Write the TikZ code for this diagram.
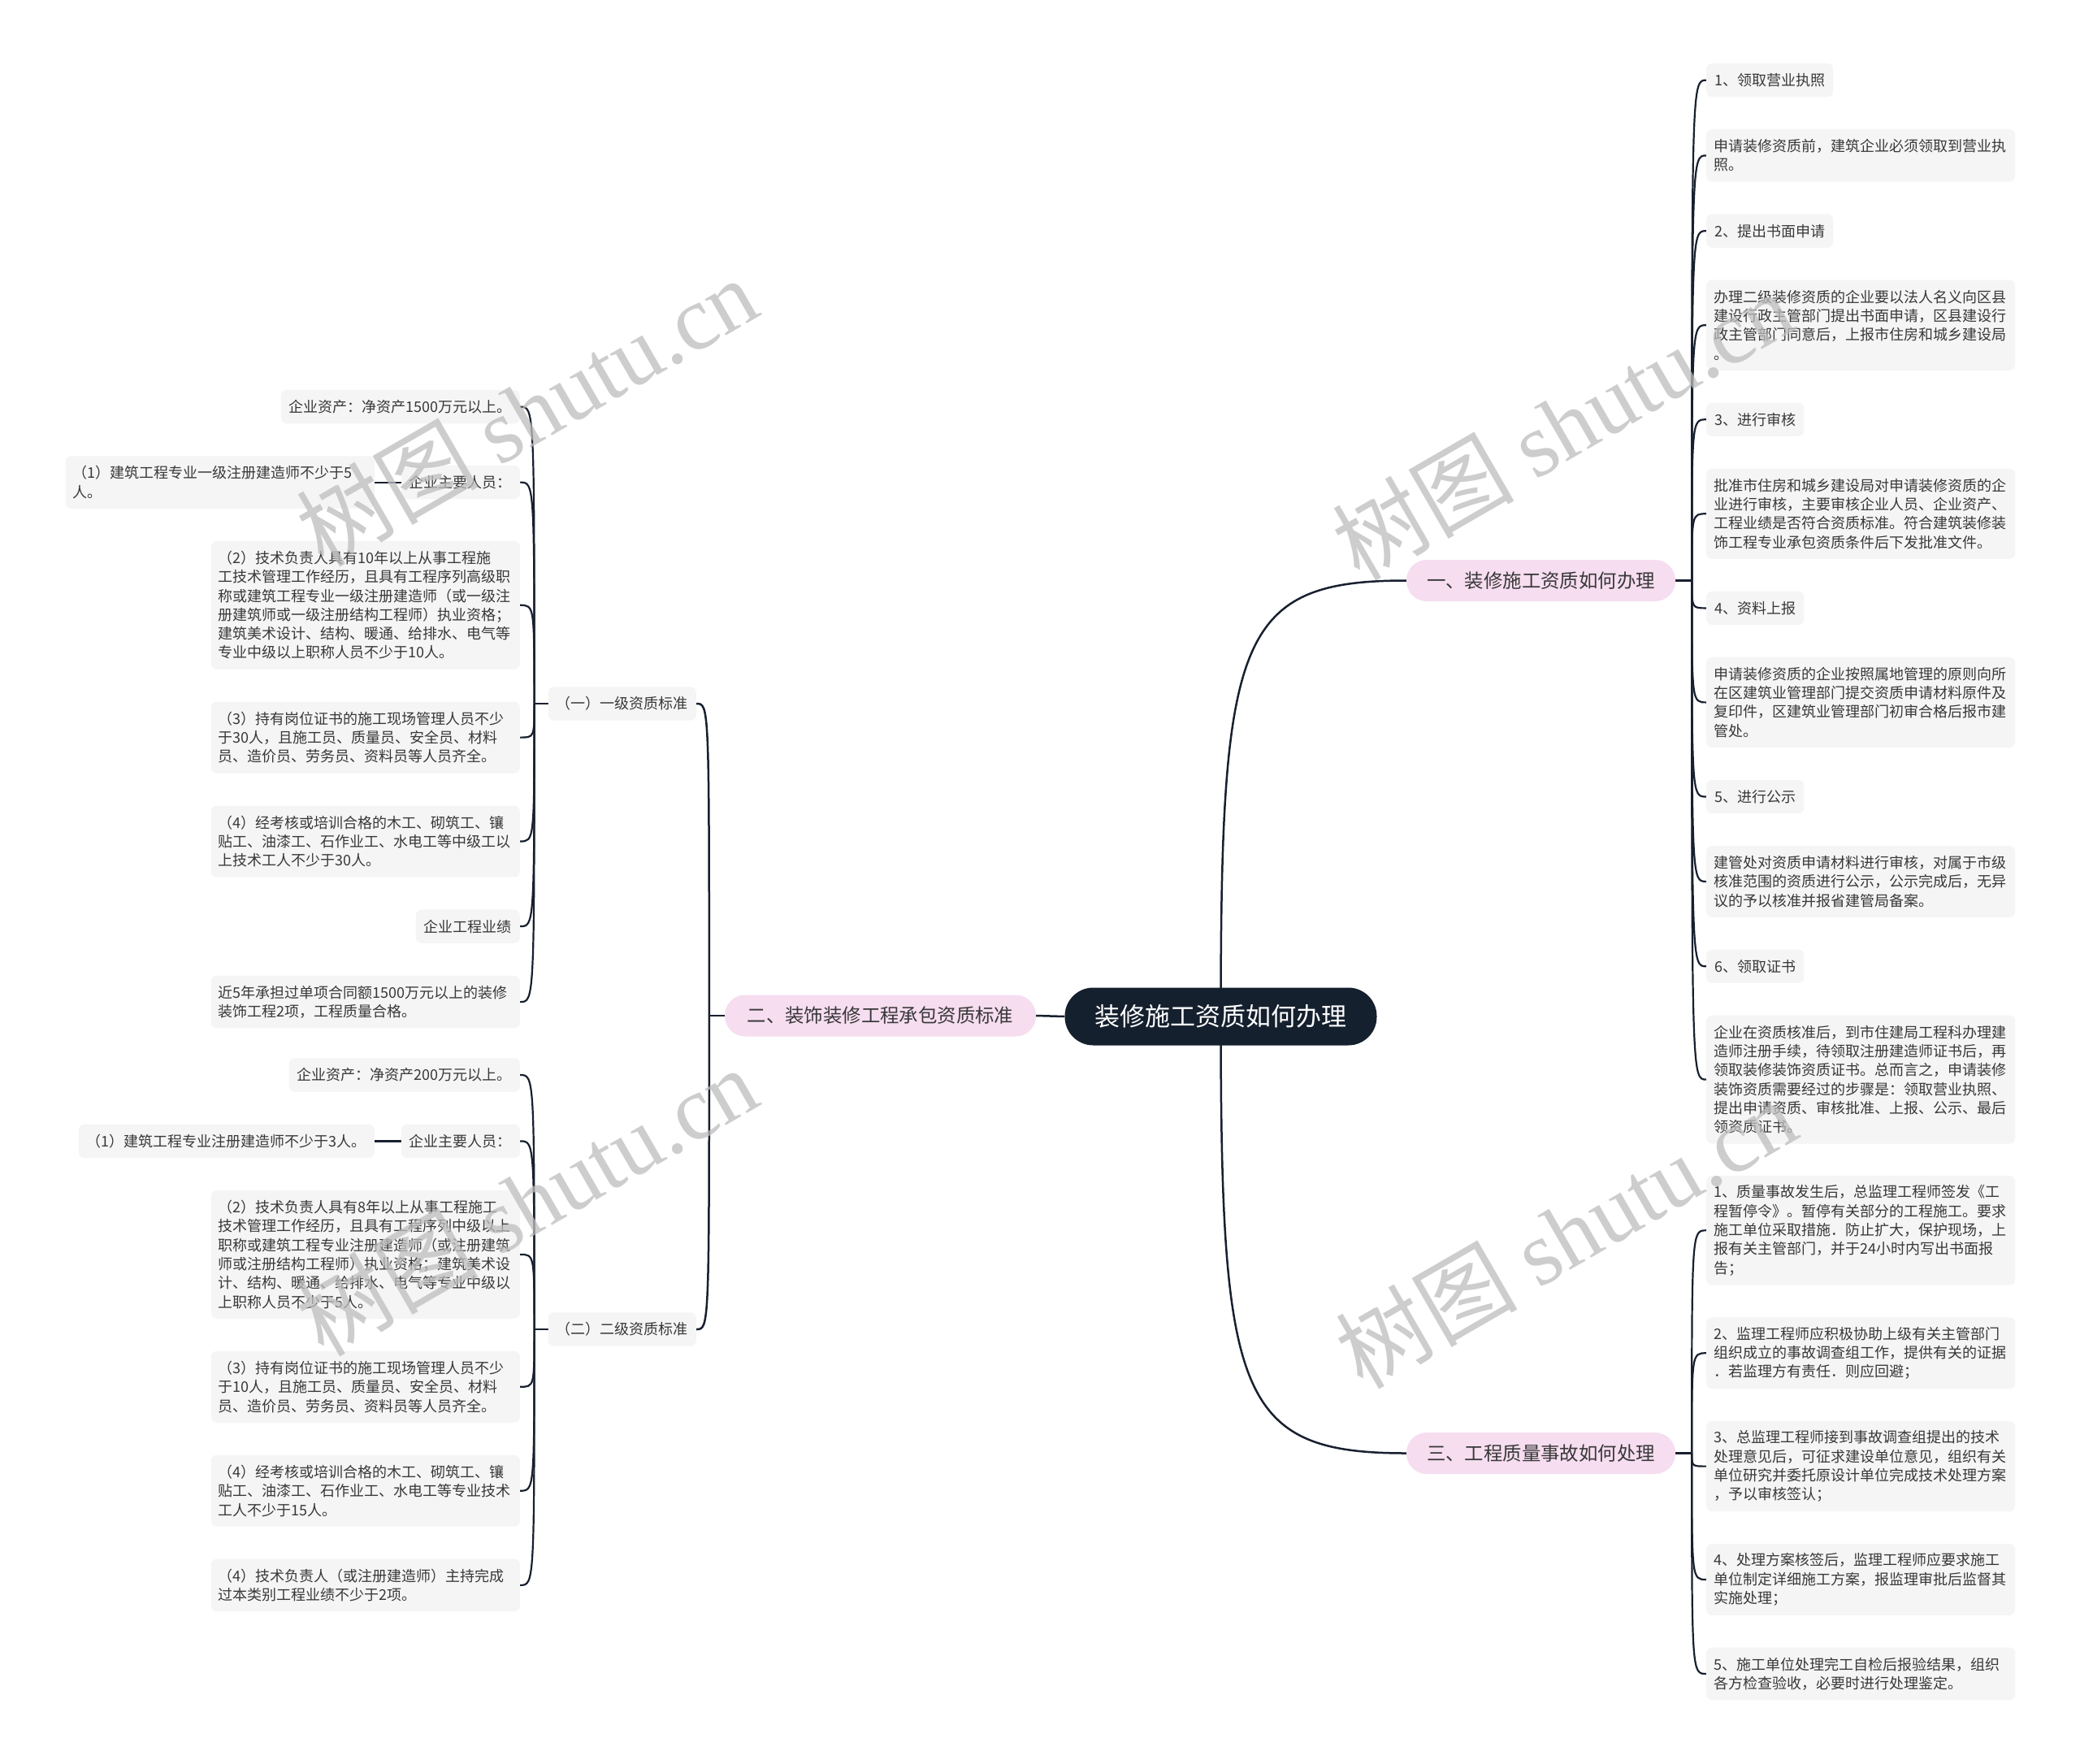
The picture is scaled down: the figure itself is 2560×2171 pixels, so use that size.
\documentclass[tikz,border=0pt]{standalone}
\usepackage{fontspec}
\setmainfont{Noto Sans CJK SC}
\newfontfamily\wmserif{Liberation Serif}
\usetikzlibrary{calc,backgrounds}
\definecolor{rootbg}{HTML}{15202E}
\definecolor{pinkbg}{HTML}{F6DDF0}
\definecolor{leafbg}{HTML}{F5F5F5}
\definecolor{leaftxt}{HTML}{383838}
\definecolor{linec}{HTML}{18202F}
\definecolor{wmc}{HTML}{BDBDBD}
\begin{document}
\begin{tikzpicture}[x=1pt,y=-1pt,
  rootnode/.style={fill=rootbg, text=white, rounded corners=35pt, minimum width=384pt, minimum height=71pt, inner sep=0pt, font=\fontsize{31}{36}\selectfont},
  branch/.style={fill=pinkbg, text=leaftxt, rounded corners=25pt, minimum height=51pt, inner sep=0pt, font=\fontsize{23.4}{28}\selectfont},
  leaf/.style={fill=leafbg, text=leaftxt, rounded corners=7pt, inner xsep=10pt, inner ysep=0pt, font=\fontsize{18}{23.3}\selectfont, minimum height=41.3pt},
  para/.style={leaf, text width=362pt, align=left, inner xsep=9pt, minimum height={18pt+#1*23.3pt}},
  conn/.style={draw=linec, line width=2.2pt},
  mainconn/.style={draw=linec, line width=2.5pt},
  wm/.style={text=wmc, opacity=0.75, font=\fontsize{112}{120}\selectfont, rotate=30, inner sep=0pt}
]
\useasboundingbox (0,0) rectangle (2560,2171);

% ---------- root and branches ----------
\node[rootnode] (root) at (1502.5,1251) {装修施工资质如何办理};
\node[branch, minimum width=331pt] (b1) at (1896.5,714.5) {一、装修施工资质如何办理};
\node[branch, minimum width=331pt] (b3) at (1896.5,1788.5) {三、工程质量事故如何处理};
\node[branch, minimum width=383pt] (b2) at (1083.5,1250) {二、装饰装修工程承包资质标准};

% ---------- branch 1 children ----------
\node[leaf, anchor=west] (c11) at (2100,98.7) {1、领取营业执照};
\node[para=2, anchor=west] (c12) at (2100,191.4) {申请装修资质前，建筑企业必须领取到营业执\\照。};
\node[leaf, anchor=west] (c13) at (2100,284.2) {2、提出书面申请};
\node[para=4, anchor=west] (c14) at (2100,400.2) {办理二级装修资质的企业要以法人名义向区县\\建设行政主管部门提出书面申请，区县建设行\\政主管部门同意后，上报市住房和城乡建设局\\。};
\node[leaf, anchor=west] (c15) at (2100,516.3) {3、进行审核};
\node[para=4, anchor=west] (c16) at (2100,632.3) {批准市住房和城乡建设局对申请装修资质的企\\业进行审核，主要审核企业人员、企业资产、\\工程业绩是否符合资质标准。符合建筑装修装\\饰工程专业承包资质条件后下发批准文件。};
\node[leaf, anchor=west] (c17) at (2100,748.4) {4、资料上报};
\node[para=4, anchor=west] (c18) at (2100,864.4) {申请装修资质的企业按照属地管理的原则向所\\在区建筑业管理部门提交资质申请材料原件及\\复印件，区建筑业管理部门初审合格后报市建\\管处。};
\node[leaf, anchor=west] (c19) at (2100,980.5) {5、进行公示};
\node[para=3, anchor=west] (c1a) at (2100,1084.9) {建管处对资质申请材料进行审核，对属于市级\\核准范围的资质进行公示，公示完成后，无异\\议的予以核准并报省建管局备案。};
\node[leaf, anchor=west] (c1b) at (2100,1189.3) {6、领取证书};
\node[para=6, anchor=west] (c1c) at (2100,1328.6) {企业在资质核准后，到市住建局工程科办理建\\造师注册手续，待领取注册建造师证书后，再\\领取装修装饰资质证书。总而言之，申请装修\\装饰资质需要经过的步骤是：领取营业执照、\\提出申请资质、审核批准、上报、公示、最后\\领资质证书。};

% ---------- branch 3 children ----------
\node[para=5, anchor=west] (c31) at (2100,1514.3) {1、质量事故发生后，总监理工程师签发《工\\程暂停令》。暂停有关部分的工程施工。要求\\施工单位采取措施．防止扩大，保护现场，上\\报有关主管部门，并于24小时内写出书面报\\告；};
\node[para=3, anchor=west] (c32) at (2100,1665.3) {2、监理工程师应积极协助上级有关主管部门\\组织成立的事故调查组工作，提供有关的证据\\．若监理方有责任．则应回避；};
\node[para=4, anchor=west] (c33) at (2100,1804.6) {3、总监理工程师接到事故调查组提出的技术\\处理意见后，可征求建设单位意见，组织有关\\单位研究并委托原设计单位完成技术处理方案\\，予以审核签认；};
\node[para=3, anchor=west] (c34) at (2100,1944) {4、处理方案核签后，监理工程师应要求施工\\单位制定详细施工方案，报监理审批后监督其\\实施处理；};
\node[para=2, anchor=west] (c35) at (2100,2060) {5、施工单位处理完工自检后报验结果，组织\\各方检查验收，必要时进行处理鉴定。};

% ---------- branch 2 children ----------
\node[leaf, anchor=east] (n1) at (857,866) {（一）一级资质标准};
\node[leaf, anchor=east] (n2) at (857,1636) {（二）二级资质标准};

\node[leaf, anchor=east] (a1) at (640,500.6) {企业资产：净资产1500万元以上。};
\node[leaf, anchor=east] (a2) at (640,593.6) {企业主要人员：};
\node[para=2, anchor=east] (a3) at (461,593.6) {（1）建筑工程专业一级注册建造师不少于5\\人。};
\node[para=6, anchor=east] (a4) at (640,744.8) {（2）技术负责人具有10年以上从事工程施\\工技术管理工作经历，且具有工程序列高级职\\称或建筑工程专业一级注册建造师（或一级注\\册建筑师或一级注册结构工程师）执业资格；\\建筑美术设计、结构、暖通、给排水、电气等\\专业中级以上职称人员不少于10人。};
\node[para=3, anchor=east] (a5) at (640,907.6) {（3）持有岗位证书的施工现场管理人员不少\\于30人，且施工员、质量员、安全员、材料\\员、造价员、劳务员、资料员等人员齐全。};
\node[para=3, anchor=east] (a6) at (640,1035.5) {（4）经考核或培训合格的木工、砌筑工、镶\\贴工、油漆工、石作业工、水电工等中级工以\\上技术工人不少于30人。};
\node[leaf, anchor=east] (a7) at (640,1140.1) {企业工程业绩};
\node[para=2, anchor=east] (a8) at (640,1233.1) {近5年承担过单项合同额1500万元以上的装修\\装饰工程2项，工程质量合格。};

\node[leaf, anchor=east] (d1) at (640,1323) {企业资产：净资产200万元以上。};
\node[leaf, anchor=east] (d2) at (640,1404.4) {企业主要人员：};
\node[leaf, anchor=east] (d3) at (461,1404.4) {（1）建筑工程专业注册建造师不少于3人。};
\node[para=6, anchor=east] (d4) at (640,1543.9) {（2）技术负责人具有8年以上从事工程施工\\技术管理工作经历，且具有工程序列中级以上\\职称或建筑工程专业注册建造师（或注册建筑\\师或注册结构工程师）执业资格；建筑美术设\\计、结构、暖通、给排水、电气等专业中级以\\上职称人员不少于5人。};
\node[para=3, anchor=east] (d5) at (640,1706.8) {（3）持有岗位证书的施工现场管理人员不少\\于10人，且施工员、质量员、安全员、材料\\员、造价员、劳务员、资料员等人员齐全。};
\node[para=3, anchor=east] (d6) at (640,1834.7) {（4）经考核或培训合格的木工、砌筑工、镶\\贴工、油漆工、石作业工、水电工等专业技术\\工人不少于15人。};
\node[para=2, anchor=east] (d7) at (640,1950.9) {（4）技术负责人（或注册建造师）主持完成\\过本类别工程业绩不少于2项。};

% ---------- junctions ----------
\coordinate (j1) at ($(b1.east)+(20,0)$);
\coordinate (j3) at ($(b3.east)+(20,0)$);
\coordinate (j2) at ($(b2.west)+(-19,0)$);
\coordinate (jn1) at ($(n1.west)+(-17,0)$);
\coordinate (jn2) at ($(n2.west)+(-17,0)$);

% ---------- connectors ----------
\begin{scope}[on background layer]
\fill[white] (0,0) rectangle (2560,2171);
\draw[mainconn] (root.center) .. controls ($(root.center |- b1.west)+(0,70)$) and ($(root.center |- b1.west)+(20,0)$) .. (b1.west);
\draw[mainconn] (root.center) .. controls ($(root.center |- b3.west)+(0,-70)$) and ($(root.center |- b3.west)+(20,0)$) .. (b3.west);
\draw[mainconn] (root.west) -- (b2.east);

\draw[conn] (b1.east) -- (j1);
\foreach \c in {c11,c12,c13,c14,c15,c16,c17,c18,c19,c1a,c1b,c1c}
  \draw[conn] (j1) .. controls (j1 |- \c.west) .. (\c.west);
\draw[conn] (b3.east) -- (j3);
\foreach \c in {c31,c32,c33,c34,c35}
  \draw[conn] (j3) .. controls (j3 |- \c.west) .. (\c.west);

\draw[mainconn] (b2.west) -- (j2);
\foreach \c in {n1,n2}
  \draw[mainconn] (j2) .. controls (j2 |- \c.east) .. (\c.east);

\draw[conn] (n1.west) -- (jn1);
\foreach \c in {a1,a2,a4,a5,a6,a7,a8}
  \draw[conn] (jn1) .. controls (jn1 |- \c.east) .. (\c.east);
\draw[conn] (n2.west) -- (jn2);
\foreach \c in {d1,d2,d4,d5,d6,d7}
  \draw[conn] (jn2) .. controls (jn2 |- \c.east) .. (\c.east);

\draw[conn] (a2.west) -- (a3.east);
\draw[conn] (d2.west) -- (d3.east);
\end{scope}

% ---------- watermarks ----------
\node[wm] (w1) at (648,506) {树图 {\wmserif shutu.cn}};
\node[wm] (w2) at (648,1478) {树图 {\wmserif shutu.cn}};
\node[wm] (w3) at (1923,523) {树图 {\wmserif shutu.cn}};
\node[wm] (w4) at (1927,1518) {树图 {\wmserif shutu.cn}};
\end{tikzpicture}
\end{document}
